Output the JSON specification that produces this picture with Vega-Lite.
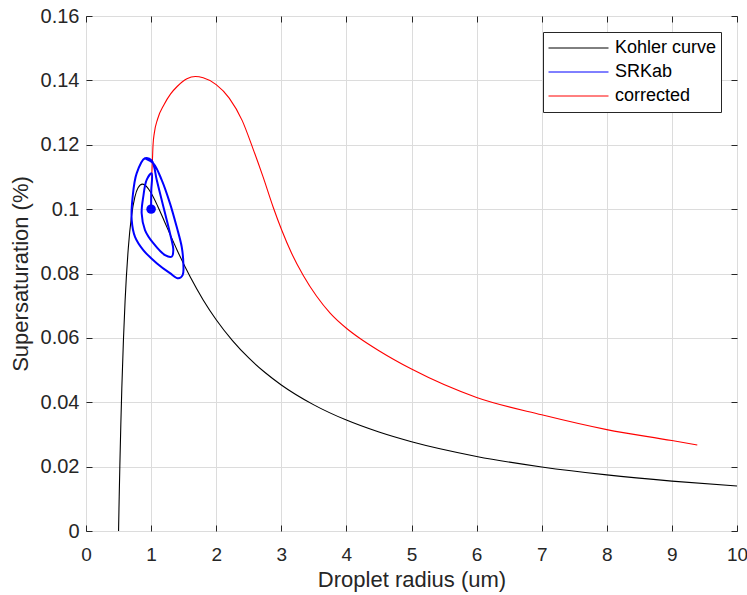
{
  "$schema": "https://vega.github.io/schema/vega-lite/v6.json",
  "autosize": {"type": "none"},
  "padding": {"left": 86, "top": 16, "right": 10, "bottom": 64},
  "width": 651,
  "height": 515,
  "background": "white",
  "config": {
    "font": "Liberation Sans",
    "view": {"stroke": "#262626", "strokeWidth": 1},
    "axis": {
      "domain": false,
      "gridColor": "#dcdcdc",
      "gridWidth": 1,
      "tickColor": "#262626",
      "tickSize": -6,
      "labelColor": "#262626",
      "labelFontSize": 20,
      "titleColor": "#262626",
      "titleFontSize": 22,
      "titleFontWeight": "normal",
      "labelFlush": false,
      "labelOverlap": false
    },
    "legend": {
      "orient": "none",
      "legendX": 457,
      "legendY": 16,
      "fillColor": "white",
      "strokeColor": "#262626",
      "padding": 4,
      "symbolType": "stroke",
      "symbolSize": 3600,
      "symbolStrokeWidth": 1,
      "clipHeight": 24,
      "rowPadding": 0,
      "labelFontSize": 18,
      "labelColor": "#000000",
      "labelOffset": 6,
      "symbolOffset": 1,
      "labelLimit": 400
    }
  },
  "datasets": {
    "curves": [
      {"series": "Kohler curve", "i": 0, "r": 0.5, "S": 0.0},
      {"series": "Kohler curve", "i": 1, "r": 0.51, "S": 0.01066},
      {"series": "Kohler curve", "i": 2, "r": 0.52, "S": 0.02031},
      {"series": "Kohler curve", "i": 3, "r": 0.535, "S": 0.03312},
      {"series": "Kohler curve", "i": 4, "r": 0.55, "S": 0.04418},
      {"series": "Kohler curve", "i": 5, "r": 0.575, "S": 0.05937},
      {"series": "Kohler curve", "i": 6, "r": 0.6, "S": 0.0713},
      {"series": "Kohler curve", "i": 7, "r": 0.65, "S": 0.08794},
      {"series": "Kohler curve", "i": 8, "r": 0.7, "S": 0.09796},
      {"series": "Kohler curve", "i": 9, "r": 0.75, "S": 0.1037},
      {"series": "Kohler curve", "i": 10, "r": 0.8, "S": 0.10664},
      {"series": "Kohler curve", "i": 11, "r": 0.866, "S": 0.10777},
      {"series": "Kohler curve", "i": 12, "r": 0.95, "S": 0.10655},
      {"series": "Kohler curve", "i": 13, "r": 1.0, "S": 0.105},
      {"series": "Kohler curve", "i": 14, "r": 1.1, "S": 0.10098},
      {"series": "Kohler curve", "i": 15, "r": 1.2, "S": 0.09641},
      {"series": "Kohler curve", "i": 16, "r": 1.3, "S": 0.09176},
      {"series": "Kohler curve", "i": 17, "r": 1.4, "S": 0.08724},
      {"series": "Kohler curve", "i": 18, "r": 1.6, "S": 0.07896},
      {"series": "Kohler curve", "i": 19, "r": 1.8, "S": 0.07178},
      {"series": "Kohler curve", "i": 20, "r": 2.0, "S": 0.06563},
      {"series": "Kohler curve", "i": 21, "r": 2.25, "S": 0.05915},
      {"series": "Kohler curve", "i": 22, "r": 2.5, "S": 0.05376},
      {"series": "Kohler curve", "i": 23, "r": 2.75, "S": 0.04923},
      {"series": "Kohler curve", "i": 24, "r": 3.0, "S": 0.04537},
      {"series": "Kohler curve", "i": 25, "r": 3.5, "S": 0.03918},
      {"series": "Kohler curve", "i": 26, "r": 4.0, "S": 0.03445},
      {"series": "Kohler curve", "i": 27, "r": 4.5, "S": 0.03073},
      {"series": "Kohler curve", "i": 28, "r": 5.0, "S": 0.02772},
      {"series": "Kohler curve", "i": 29, "r": 6.0, "S": 0.02317},
      {"series": "Kohler curve", "i": 30, "r": 7.0, "S": 0.0199},
      {"series": "Kohler curve", "i": 31, "r": 8.0, "S": 0.01743},
      {"series": "Kohler curve", "i": 32, "r": 9.0, "S": 0.01551},
      {"series": "Kohler curve", "i": 33, "r": 10.0, "S": 0.01397},
      {"series": "corrected", "i": 0, "r": 1.0, "S": 0.1},
      {"series": "corrected", "i": 1, "r": 1.004, "S": 0.105},
      {"series": "corrected", "i": 2, "r": 1.01, "S": 0.11},
      {"series": "corrected", "i": 3, "r": 1.02, "S": 0.115},
      {"series": "corrected", "i": 4, "r": 1.03, "S": 0.12},
      {"series": "corrected", "i": 5, "r": 1.05, "S": 0.1237},
      {"series": "corrected", "i": 6, "r": 1.1, "S": 0.128},
      {"series": "corrected", "i": 7, "r": 1.2, "S": 0.1325},
      {"series": "corrected", "i": 8, "r": 1.3, "S": 0.1358},
      {"series": "corrected", "i": 9, "r": 1.4, "S": 0.1381},
      {"series": "corrected", "i": 10, "r": 1.55, "S": 0.1405},
      {"series": "corrected", "i": 11, "r": 1.68, "S": 0.1412},
      {"series": "corrected", "i": 12, "r": 1.8, "S": 0.1408},
      {"series": "corrected", "i": 13, "r": 2.0, "S": 0.1387},
      {"series": "corrected", "i": 14, "r": 2.2, "S": 0.1345},
      {"series": "corrected", "i": 15, "r": 2.4, "S": 0.1275},
      {"series": "corrected", "i": 16, "r": 2.57, "S": 0.1185},
      {"series": "corrected", "i": 17, "r": 2.72, "S": 0.11},
      {"series": "corrected", "i": 18, "r": 2.877, "S": 0.1005},
      {"series": "corrected", "i": 19, "r": 3.006, "S": 0.0935},
      {"series": "corrected", "i": 20, "r": 3.16, "S": 0.0862},
      {"series": "corrected", "i": 21, "r": 3.34, "S": 0.0793},
      {"series": "corrected", "i": 22, "r": 3.54, "S": 0.073},
      {"series": "corrected", "i": 23, "r": 3.75, "S": 0.0677},
      {"series": "corrected", "i": 24, "r": 4.0, "S": 0.063},
      {"series": "corrected", "i": 25, "r": 4.21, "S": 0.0598},
      {"series": "corrected", "i": 26, "r": 4.5, "S": 0.056},
      {"series": "corrected", "i": 27, "r": 5.0, "S": 0.0503},
      {"series": "corrected", "i": 28, "r": 6.0, "S": 0.0415},
      {"series": "corrected", "i": 29, "r": 7.0, "S": 0.0361},
      {"series": "corrected", "i": 30, "r": 8.0, "S": 0.0315},
      {"series": "corrected", "i": 31, "r": 9.0, "S": 0.0281},
      {"series": "corrected", "i": 32, "r": 9.39, "S": 0.0267}
    ],
    "spiral": [
      {"series": "SRKab", "i": 0, "r": 1.0, "S": 0.1},
      {"series": "SRKab", "i": 1, "r": 1.003, "S": 0.1059},
      {"series": "SRKab", "i": 2, "r": 1.009, "S": 0.1111},
      {"series": "SRKab", "i": 3, "r": 0.932, "S": 0.1091},
      {"series": "SRKab", "i": 4, "r": 0.88, "S": 0.1039},
      {"series": "SRKab", "i": 5, "r": 0.855, "S": 0.0987},
      {"series": "SRKab", "i": 6, "r": 0.906, "S": 0.0935},
      {"series": "SRKab", "i": 7, "r": 1.034, "S": 0.0894},
      {"series": "SRKab", "i": 8, "r": 1.214, "S": 0.0857},
      {"series": "SRKab", "i": 9, "r": 1.316, "S": 0.0852},
      {"series": "SRKab", "i": 10, "r": 1.341, "S": 0.0873},
      {"series": "SRKab", "i": 11, "r": 1.29, "S": 0.0925},
      {"series": "SRKab", "i": 12, "r": 1.214, "S": 0.0987},
      {"series": "SRKab", "i": 13, "r": 1.137, "S": 0.1049},
      {"series": "SRKab", "i": 14, "r": 1.086, "S": 0.1091},
      {"series": "SRKab", "i": 15, "r": 1.009, "S": 0.1151},
      {"series": "SRKab", "i": 16, "r": 0.906, "S": 0.1158},
      {"series": "SRKab", "i": 17, "r": 0.778, "S": 0.1111},
      {"series": "SRKab", "i": 18, "r": 0.717, "S": 0.1039},
      {"series": "SRKab", "i": 19, "r": 0.702, "S": 0.0966},
      {"series": "SRKab", "i": 20, "r": 0.753, "S": 0.0914},
      {"series": "SRKab", "i": 21, "r": 0.88, "S": 0.0873},
      {"series": "SRKab", "i": 22, "r": 1.086, "S": 0.0832},
      {"series": "SRKab", "i": 23, "r": 1.29, "S": 0.0801},
      {"series": "SRKab", "i": 24, "r": 1.418, "S": 0.0785},
      {"series": "SRKab", "i": 25, "r": 1.485, "S": 0.0795},
      {"series": "SRKab", "i": 26, "r": 1.495, "S": 0.0832},
      {"series": "SRKab", "i": 27, "r": 1.47, "S": 0.0883},
      {"series": "SRKab", "i": 28, "r": 1.393, "S": 0.0945},
      {"series": "SRKab", "i": 29, "r": 1.29, "S": 0.1018},
      {"series": "SRKab", "i": 30, "r": 1.162, "S": 0.1091},
      {"series": "SRKab", "i": 31, "r": 1.034, "S": 0.1142},
      {"series": "SRKab", "i": 32, "r": 0.906, "S": 0.1158}
    ],
    "dot": [
      {"r": 1.0, "S": 0.1}
    ]
  },
  "resolve": {"axis": {"x": "independent", "y": "independent"}},
  "layer": [
    {
      "data": {"name": "curves"},
      "mark": {"type": "line", "strokeWidth": 1.1, "interpolate": "monotone"},
      "encoding": {
        "x": {
          "field": "r", "type": "quantitative",
          "scale": {"domain": [0, 10], "nice": false, "zero": false},
          "axis": {"title": "Droplet radius (um)", "values": [0,1,2,3,4,5,6,7,8,9,10], "labelFontSize": 19, "labelPadding": 20, "titlePadding": 5}
        },
        "y": {
          "field": "S", "type": "quantitative",
          "scale": {"domain": [0, 0.16], "nice": false, "zero": false},
          "axis": {"title": "Supersaturation (%)", "values": [0,0.02,0.04,0.06,0.08,0.1,0.12,0.14,0.16], "format": ".2~f", "labelPadding": 13, "titlePadding": 8}
        },
        "color": {
          "field": "series", "type": "nominal",
          "scale": {"domain": ["Kohler curve", "SRKab", "corrected"], "range": ["#000000", "#0000ff", "#ff0000"]},
          "legend": {"title": null}
        },
        "order": {"field": "i", "type": "quantitative"}
      }
    },
    {
      "data": {"name": "spiral"},
      "mark": {"type": "line", "strokeWidth": 2, "interpolate": "catmull-rom"},
      "encoding": {
        "x": {"field": "r", "type": "quantitative", "axis": null},
        "y": {"field": "S", "type": "quantitative", "axis": null},
        "color": {"field": "series", "type": "nominal"},
        "order": {"field": "i", "type": "quantitative"}
      }
    },
    {
      "data": {"name": "dot"},
      "mark": {"type": "point", "filled": true, "size": 90, "color": "#0000ff", "opacity": 1},
      "encoding": {
        "x": {"field": "r", "type": "quantitative",
          "axis": {"orient": "top", "title": null, "labels": false, "grid": false, "values": [0,1,2,3,4,5,6,7,8,9,10]}},
        "y": {"field": "S", "type": "quantitative",
          "axis": {"orient": "right", "title": null, "labels": false, "grid": false, "values": [0,0.02,0.04,0.06,0.08,0.1,0.12,0.14,0.16]}}
      }
    }
  ]
}
